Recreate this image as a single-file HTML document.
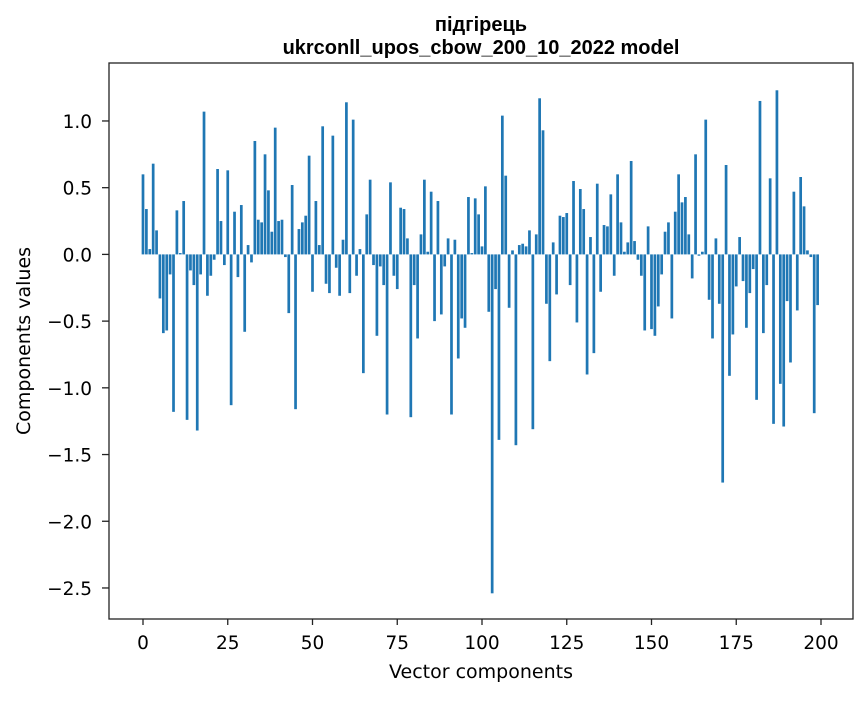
<!DOCTYPE html>
<html><head><meta charset="utf-8"><style>
body{margin:0;background:#fff;}
svg text{font-family:"DejaVu Sans","Liberation Sans",sans-serif;fill:#000;}
svg text.title{font-family:"Liberation Sans","DejaVu Sans",sans-serif;}
</style></head><body>
<svg id="chart" width="867" height="696" xmlns="http://www.w3.org/2000/svg">
<rect width="867" height="696" fill="#fff"/>
<text class="title" x="481" y="31" text-anchor="middle" font-size="20" font-weight="bold">підгірець</text>
<text class="title" x="481" y="54" text-anchor="middle" font-size="20" font-weight="bold">ukrconll_upos_cbow_200_10_2022 model</text>
<g id="bars"></g>
<rect x="109" y="63" width="744" height="556" fill="none" stroke="#222" stroke-width="1.3"/>
<g id="xticks"></g>
<g id="yticks"></g>
<text x="481" y="678" text-anchor="middle" font-size="19">Vector components</text>
<text x="30" y="341" text-anchor="middle" font-size="19" transform="rotate(-90 30 341)">Components values</text>
</svg>
<script>
const values = [
0.60,0.34,0.04,0.68,0.18,-0.33,-0.59,-0.57,-0.15,-1.18,
0.33,0.01,0.40,-1.24,-0.12,-0.23,-1.32,-0.15,1.07,-0.31,
-0.16,-0.04,0.64,0.25,-0.08,0.63,-1.13,0.32,-0.17,0.37,
-0.58,0.07,-0.06,0.85,0.26,0.24,0.75,0.48,0.17,0.95,
0.25,0.26,-0.02,-0.44,0.52,-1.16,0.19,0.24,0.29,0.74,
-0.28,0.40,0.07,0.96,-0.22,-0.29,0.89,-0.10,-0.31,0.11,
1.14,-0.29,1.01,-0.16,0.04,-0.89,0.30,0.56,-0.08,-0.61,
-0.09,-0.23,-1.20,0.54,-0.16,-0.26,0.35,0.34,0.12,-1.22,
-0.23,-0.63,0.15,0.56,0.02,0.47,-0.50,0.40,-0.45,-0.09,
0.12,-1.20,0.11,-0.78,-0.48,-0.55,0.43,0.01,0.42,0.30,
0.06,0.51,-0.43,-2.54,-0.26,-1.39,1.04,0.59,-0.40,0.03,
-1.43,0.07,0.08,0.06,0.18,-1.31,0.15,1.17,0.93,-0.37,
-0.80,0.09,-0.30,0.29,0.28,0.31,-0.23,0.55,-0.51,0.49,
0.34,-0.90,0.13,-0.74,0.53,-0.28,0.22,0.21,0.45,-0.16,
0.60,0.24,0.02,0.09,0.70,0.10,-0.04,-0.16,-0.57,0.21,
-0.56,-0.61,-0.39,-0.15,0.17,0.24,-0.48,0.32,0.60,0.39,
0.43,0.15,-0.18,0.75,-0.01,0.02,1.01,-0.34,-0.63,0.12,
-0.37,-1.71,0.67,-0.91,-0.60,-0.24,0.13,-0.20,-0.55,-0.29,
-0.11,-1.09,1.15,-0.59,-0.23,0.57,-1.27,1.23,-0.97,-1.29,
-0.35,-0.81,0.47,-0.42,0.58,0.36,0.03,-0.02,-1.19,-0.38
];
const xTicks = [0,25,50,75,100,125,150,175,200];
const yTicks = [1.0,0.5,0.0,-0.5,-1.0,-1.5,-2.0,-2.5];
const yTickLabels = ["1.0","0.5","0.0","\u22120.5","\u22121.0","\u22121.5","\u22122.0","\u22122.5"];

const NS="http://www.w3.org/2000/svg";
function xs(v){return 143+v*3.39;}
function ys(v){return 254.4-v*133.43;}
const bars=document.getElementById('bars');
values.forEach((v,i)=>{
  const r=document.createElementNS(NS,'rect');
  const y0=ys(0), y1=ys(v);
  r.setAttribute('x',xs(i)-0.4*3.39);
  r.setAttribute('width',0.8*3.39);
  r.setAttribute('y',Math.min(y0,y1));
  r.setAttribute('height',Math.abs(y1-y0));
  r.setAttribute('fill','#1f77b4');
  
  
  bars.appendChild(r);
});
const xg=document.getElementById('xticks');
xTicks.forEach(t=>{
  const l=document.createElementNS(NS,'line');
  l.setAttribute('x1',xs(t));l.setAttribute('x2',xs(t));
  l.setAttribute('y1',619);l.setAttribute('y2',625);
  l.setAttribute('stroke','#222');l.setAttribute('stroke-width','1.3');
  
  
  xg.appendChild(l);
  const tx=document.createElementNS(NS,'text');
  tx.setAttribute('x',xs(t));tx.setAttribute('y',649);
  tx.setAttribute('text-anchor','middle');tx.setAttribute('font-size','18.5');
  tx.textContent=String(t);
  
  
  xg.appendChild(tx);
});
const yg=document.getElementById('yticks');
yTicks.forEach((t,i)=>{
  const l=document.createElementNS(NS,'line');
  l.setAttribute('x1',102);l.setAttribute('x2',109);
  l.setAttribute('y1',ys(t));l.setAttribute('y2',ys(t));
  l.setAttribute('stroke','#222');l.setAttribute('stroke-width','1.3');
  
  
  yg.appendChild(l);
  const tx=document.createElementNS(NS,'text');
  tx.setAttribute('x',92);tx.setAttribute('y',ys(t)+7);
  tx.setAttribute('text-anchor','end');tx.setAttribute('font-size','18.5');
  tx.textContent=yTickLabels[i];
  
  
  yg.appendChild(tx);
});
</script>
</body></html>
